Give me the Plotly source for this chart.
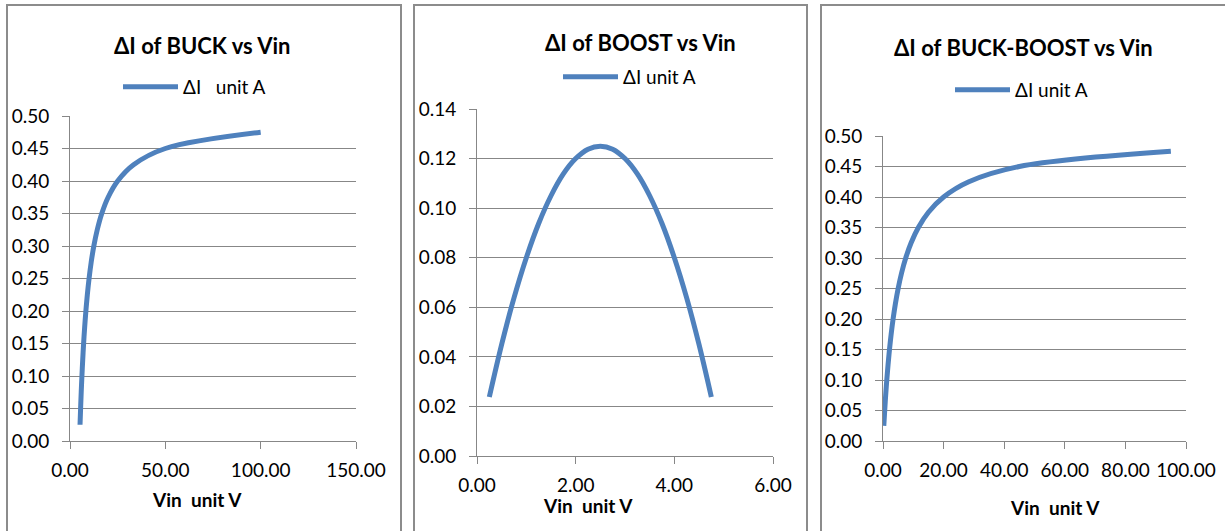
import plotly.graph_objects as go

# ---------------- data ----------------
buck_vin = [100.00, 50.00, 33.33, 25.00, 20.00, 16.67, 14.29, 12.50, 11.11, 10.00,
            9.09, 8.33, 7.69, 7.14, 6.67, 6.25, 5.88, 5.56, 5.26]
buck_di = [0.475, 0.450, 0.425, 0.400, 0.375, 0.350, 0.325, 0.300, 0.275, 0.250,
           0.225, 0.200, 0.175, 0.150, 0.125, 0.100, 0.075, 0.050, 0.025]

boost_vin = [4.75, 4.50, 4.25, 4.00, 3.75, 3.50, 3.25, 3.00, 2.75, 2.50,
             2.25, 2.00, 1.75, 1.50, 1.25, 1.00, 0.75, 0.50, 0.25]
boost_di = [0.0238, 0.0450, 0.0638, 0.0800, 0.0938, 0.1050, 0.1138, 0.1200, 0.1238, 0.1250,
            0.1238, 0.1200, 0.1138, 0.1050, 0.0938, 0.0800, 0.0638, 0.0450, 0.0238]

bb_vin = [95.00, 45.00, 28.33, 20.00, 15.00, 11.67, 9.29, 7.50, 6.11, 5.00,
          4.09, 3.33, 2.69, 2.14, 1.67, 1.25, 0.88, 0.56, 0.26]
bb_di = [0.475, 0.450, 0.425, 0.400, 0.375, 0.350, 0.325, 0.300, 0.275, 0.250,
         0.225, 0.200, 0.175, 0.150, 0.125, 0.100, 0.075, 0.050, 0.025]

titles = ["ΔI of BUCK vs Vin", "ΔI of BOOST vs Vin", "ΔI of BUCK-BOOST vs Vin"]
legend_names = ["ΔI\u00a0\u00a0\u00a0unit A", "ΔI unit A", "ΔI unit A"]
x_title = "Vin\u00a0\u00a0unit V"

# ---------------- layout helpers ----------------
W, H = 1225, 531
FONT = "Lato"
GRID = "#878787"
LINE = "#4F81BD"


def px(x):
    return x / W


def py(y):
    return 1 - y / H


fig = go.Figure()

panels = [
    dict(x=buck_vin, y=buck_di, xd=(70, 356), yd=(441, 116), xr=[0, 150], xdt=50,
         yr=[0, 0.5], ydt=0.05, title=(202, 45), leg=(118, 87), xt=(197, 500),
         border=(7, 401)),
    dict(x=boost_vin, y=boost_di, xd=(477, 773), yd=(456, 109), xr=[0, 6], xdt=2,
         yr=[0, 0.14], ydt=0.02, title=(640, 42), leg=(558, 77), xt=(588, 505),
         border=(414, 807)),
    dict(x=bb_vin, y=bb_di, xd=(883, 1186), yd=(441, 136), xr=[0, 100], xdt=20,
         yr=[0, 0.5], ydt=0.05, title=(1023, 47), leg=(950, 90), xt=(1055, 507),
         border=(821, 1232)),
]

annotations = []
shapes = []
for i, p in enumerate(panels):
    n = "" if i == 0 else str(i + 1)
    lg = "legend" if i == 0 else f"legend{i + 1}"
    fig.add_trace(go.Scatter(
        x=p["x"], y=p["y"], mode="lines", name=legend_names[i],
        line=dict(color=LINE, width=5, shape="spline", smoothing=1.0),
        xaxis=f"x{n}", yaxis=f"y{n}", legend=lg, showlegend=True,
    ))
    axis_common = dict(
        showgrid=False, zeroline=False, showline=True, linecolor=GRID, linewidth=1,
        ticks="outside", ticklen=7, tickcolor=GRID, tickwidth=1,
        tickfont=dict(family=FONT, size=19, color="#000"), tickformat=".2f",
        fixedrange=True, automargin=False,
    )
    fig.update_layout(**{
        f"xaxis{n}": dict(axis_common, domain=[px(p["xd"][0]), px(p["xd"][1])],
                         range=p["xr"], dtick=p["xdt"], tick0=0,
                         anchor=f"y{n}", ticklabelstandoff=5),
        f"yaxis{n}": dict(axis_common, domain=[py(p["yd"][0]), py(p["yd"][1])],
                         range=p["yr"], dtick=p["ydt"], tick0=0, showgrid=True,
                         gridcolor=GRID, gridwidth=1, anchor=f"x{n}",
                         ticklabelstandoff=9),
        lg: dict(x=px(p["leg"][0]), y=py(p["leg"][1]), xanchor="left",
                 yanchor="middle", bgcolor="rgba(0,0,0,0)",
                 font=dict(family=FONT, size=19, color="#000"),
                 itemwidth=55, tracegroupgap=0),
    })
    annotations.append(dict(
        text=f"<b>{titles[i]}</b>", x=px(p["title"][0]), y=py(p["title"][1]),
        xref="paper", yref="paper", showarrow=False, xanchor="center",
        yanchor="middle", font=dict(family=FONT, size=22, color="#000")))
    annotations.append(dict(
        text=f"<b>{x_title}</b>", x=px(p["xt"][0]), y=py(p["xt"][1]),
        xref="paper", yref="paper", showarrow=False, xanchor="center",
        yanchor="middle", font=dict(family=FONT, size=19, color="#000")))
    shapes.append(dict(
        type="rect", xref="paper", yref="paper",
        x0=px(p["border"][0]), x1=px(p["border"][1]), y0=py(545), y1=py(5),
        line=dict(color="#8C8C8C", width=2), fillcolor="rgba(0,0,0,0)", layer="below"))

fig.update_layout(
    width=W, height=H, margin=dict(l=0, r=0, t=0, b=0, autoexpand=False),
    paper_bgcolor="white", plot_bgcolor="white",
    annotations=annotations, shapes=shapes,
    font=dict(family=FONT, color="#000"),
)

fig.write_html("out.html")
